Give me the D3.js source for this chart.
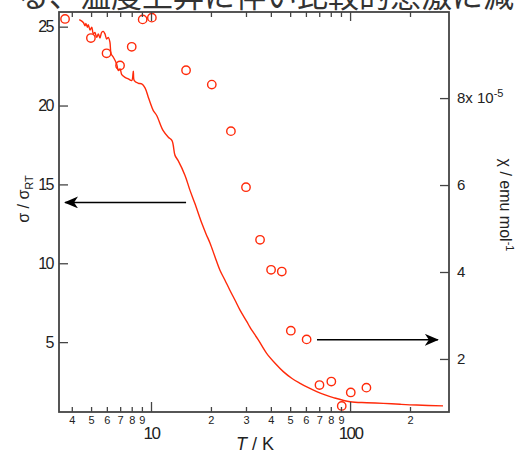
<!DOCTYPE html>
<html>
<head>
<meta charset="utf-8">
<script src="https://cdn.jsdelivr.net/npm/d3@7/dist/d3.min.js"></script>
<style>
  html, body { margin: 0; padding: 0; background: #fff; }
  svg { display: block; font-family: "Liberation Sans", Arial, sans-serif; }
</style>
</head>
<body>
<svg id="chart" width="524" height="455"></svg>
<script>
// Conductivity ratio sigma/sigma_RT versus temperature (line)
const sigmaT = [4.36, 4.57, 4.66, 4.71, 4.79, 4.84, 4.94, 5.04, 5.13, 5.23, 5.33, 5.44, 5.54, 5.65,
  5.76, 5.87, 5.99, 6.10, 6.22, 6.30, 6.47, 6.72, 6.85, 6.99, 7.13, 7.40, 7.69, 8.00, 8.15, 8.24,
  8.64, 8.98, 9.33, 9.69, 9.89, 10.27, 10.68, 11.49, 12.22, 12.75, 13.2, 13.67, 14.82, 15.70,
  16.6, 18.0, 18.9, 19.8, 20.97, 22.2, 23.5, 24.9, 26.4, 28.0, 30.3, 31.4, 34.6, 38.1, 42.0, 46.2,
  50.9, 56.1, 61.7, 68.0, 74.9, 82.4, 100, 121.3, 147, 178.3, 216, 293];
const sigmaVal = [25.44, 25.27, 25.06, 25.21, 24.96, 25.13, 24.79, 24.96, 24.54, 24.64, 24.32, 24.54,
  24.28, 24.64, 24.70, 24.54, 24.22, 24.32, 24.01, 23.29, 23.06, 22.64, 22.22, 22.32, 21.96, 21.79,
  21.69, 21.58, 22.17, 21.58, 21.41, 21.37, 21.12, 20.53, 20.21, 19.68, 19.37, 18.42, 17.99, 17.78,
  16.84, 16.52, 15.57, 14.62, 13.80, 12.53, 11.86, 11.27, 10.40, 9.56, 8.94, 8.29, 7.67, 7.03, 6.30,
  5.95, 5.14, 4.29, 3.66, 3.13, 2.71, 2.39, 2.11, 1.86, 1.65, 1.48, 1.22, 1.16, 1.12, 1.06, 1.01, 0.96];

// Magnetic susceptibility chi (units of 1e-5 emu/mol) versus temperature (circles)
const chiT = [3.70, 4.99, 5.98, 6.99, 8.0, 9.08, 10.1, 15.0, 20.2, 25.2, 30.0, 35.3, 40.1, 45.4,
  50.4, 60.5, 70.2, 80.5, 90.8, 100.8, 120.8];
const chiVal = [9.82, 9.38, 9.03, 8.75, 9.18, 9.81, 9.85, 8.64, 8.31, 7.24, 5.95, 4.74, 4.05, 4.01,
  2.65, 2.45, 1.40, 1.48, 0.92, 1.23, 1.34];

// Axis ticks
const xMinorTicks = [4, 5, 6, 7, 8, 9, 20, 30, 40, 50, 60, 70, 80, 90, 200];
const xMajorTicks = [10, 100];
const leftTicks = [5, 10, 15, 20, 25];
const rightTicks = [2, 4, 6, 8];

// Arrows pointing each curve to its axis: [T start, T end, value]
const sigmaArrow = [15.0, 3.70, 13.86];
const chiArrow = [68.2, 276, 2.44];

const svg = d3.select("#chart");
const L = 59, R = 449, T = 12, B = 412;
const red = "#ff2a0a";
const ink = "#222";
const frameColor = "#444";

const x = d3.scaleLog().domain([3.45, 314]).range([L, R]);
const yL = d3.scaleLinear().domain([0.57, 25.93]).range([B, T]);
const yR = d3.scaleLinear().domain([0.78, 9.98]).range([B, T]);

// Japanese caption line running above the figure
svg.append("text")
  .attr("x", 18).attr("y", 7)
  .attr("font-family", "'Noto Sans CJK JP', sans-serif")
  .attr("font-size", 31)
  .attr("fill", "#333")
  .text("る、温度上昇に伴い比較的急激に減");

// white backdrop for the plot area
svg.append("rect").attr("x", L).attr("y", T).attr("width", R - L).attr("height", B - T).attr("fill", "#fff");

// Curves
const line = d3.line()
  .x((d, i) => x(sigmaT[i]))
  .y(d => yL(d))
  .curve(d3.curveCatmullRom.alpha(0.5));
svg.append("path")
  .datum(sigmaVal)
  .attr("d", line)
  .attr("fill", "none")
  .attr("stroke", red)
  .attr("stroke-width", 1.4)
  .attr("stroke-linejoin", "round");

svg.append("g").selectAll("circle")
  .data(chiVal)
  .join("circle")
  .attr("cx", (d, i) => x(chiT[i]))
  .attr("cy", d => yR(d))
  .attr("r", 4.2)
  .attr("fill", "none")
  .attr("stroke", red)
  .attr("stroke-width", 1.4);

// Axes with inward ticks
function styleAxis(g) {
  g.select(".domain").remove();
  g.selectAll(".tick line").attr("stroke", frameColor).attr("stroke-width", 1.3);
}

// bottom: minor ticks labelled with leading digit
svg.append("g")
  .attr("transform", `translate(0,${B})`)
  .call(d3.axisBottom(x).tickValues(xMinorTicks).tickSizeInner(-5).tickSizeOuter(0).tickPadding(4)
    .tickFormat(d => String(d).charAt(0)))
  .call(styleAxis)
  .call(g => g.selectAll("text").attr("font-size", 11).attr("fill", ink).attr("font-family", "'Liberation Sans', Arial, sans-serif"));

// bottom: decades, longer ticks and bigger labels
svg.append("g")
  .attr("transform", `translate(0,${B})`)
  .call(d3.axisBottom(x).tickValues(xMajorTicks).tickSizeInner(-10).tickSizeOuter(0).tickPadding(15)
    .tickFormat(d3.format("d")))
  .call(styleAxis)
  .call(g => g.selectAll("text").attr("font-size", 17).attr("fill", ink).attr("letter-spacing", -1.5)
    .attr("font-family", "'Liberation Sans', Arial, sans-serif"));

// top: ticks only
svg.append("g")
  .attr("transform", `translate(0,${T})`)
  .call(d3.axisTop(x).tickValues(xMinorTicks).tickSizeInner(-5).tickSizeOuter(0).tickFormat(""))
  .call(styleAxis);
svg.append("g")
  .attr("transform", `translate(0,${T})`)
  .call(d3.axisTop(x).tickValues(xMajorTicks).tickSizeInner(-9).tickSizeOuter(0).tickFormat(""))
  .call(styleAxis);

// left axis
svg.append("g")
  .attr("transform", `translate(${L},0)`)
  .call(d3.axisLeft(yL).tickValues(leftTicks).tickSizeInner(-9).tickSizeOuter(0).tickPadding(6))
  .call(styleAxis)
  .call(g => g.selectAll("text").attr("font-size", 16).attr("fill", ink).attr("letter-spacing", -1.5)
    .attr("font-family", "'Liberation Sans', Arial, sans-serif"));

// right axis
const rightAxis = svg.append("g")
  .attr("transform", `translate(${R},0)`)
  .call(d3.axisRight(yR).tickValues(rightTicks).tickSizeInner(-9).tickSizeOuter(0).tickPadding(8)
    .tickFormat(d3.format("d")))
  .call(styleAxis)
  .call(g => g.selectAll("text").attr("font-size", 15).attr("fill", ink)
    .attr("font-family", "'Liberation Sans', Arial, sans-serif"));
rightAxis.selectAll(".tick").filter(d => d === 8).select("text")
  .text(null)
  .call(t => {
    t.append("tspan").text("8x 10");
    t.append("tspan").attr("dy", -6).attr("font-size", 11).text("-5");
  });

// frame
svg.append("rect")
  .attr("x", L).attr("y", T).attr("width", R - L).attr("height", B - T)
  .attr("fill", "none").attr("stroke", frameColor).attr("stroke-width", 1.8);

// arrows
const defs = svg.append("defs");
defs.append("marker")
  .attr("id", "head")
  .attr("viewBox", "0 0 14 12")
  .attr("refX", 13).attr("refY", 6)
  .attr("markerWidth", 14).attr("markerHeight", 12)
  .attr("markerUnits", "userSpaceOnUse")
  .attr("orient", "auto")
  .append("path")
  .attr("d", "M0,0 L14,6 L0,12 L4,6 Z")
  .attr("fill", "#000");

svg.append("line")
  .attr("x1", x(sigmaArrow[0])).attr("x2", x(sigmaArrow[1]))
  .attr("y1", yL(sigmaArrow[2])).attr("y2", yL(sigmaArrow[2]))
  .attr("stroke", "#000").attr("stroke-width", 1.5)
  .attr("marker-end", "url(#head)");
svg.append("line")
  .attr("x1", x(chiArrow[0])).attr("x2", x(chiArrow[1]))
  .attr("y1", yR(chiArrow[2])).attr("y2", yR(chiArrow[2]))
  .attr("stroke", "#000").attr("stroke-width", 1.5)
  .attr("marker-end", "url(#head)");

// axis titles
const xt = svg.append("text")
  .attr("x", 255).attr("y", 450)
  .attr("text-anchor", "middle")
  .attr("font-size", 18).attr("fill", ink);
xt.append("tspan").attr("font-style", "italic").text("T");
xt.append("tspan").text(" / K");

const ylt = svg.append("text")
  .attr("transform", "translate(29,199) rotate(-90)")
  .attr("text-anchor", "middle")
  .attr("font-size", 16).attr("fill", ink);
ylt.append("tspan").text("σ / σ");
ylt.append("tspan").attr("font-size", 11).attr("dy", 4).text("RT");

const yrt = svg.append("text")
  .attr("transform", "translate(500,205) rotate(90)")
  .attr("text-anchor", "middle")
  .attr("font-size", 16).attr("fill", ink);
yrt.append("tspan").text("χ / emu mol");
yrt.append("tspan").attr("font-size", 11).attr("dy", -6).text("-1");
</script>
</body>
</html>
